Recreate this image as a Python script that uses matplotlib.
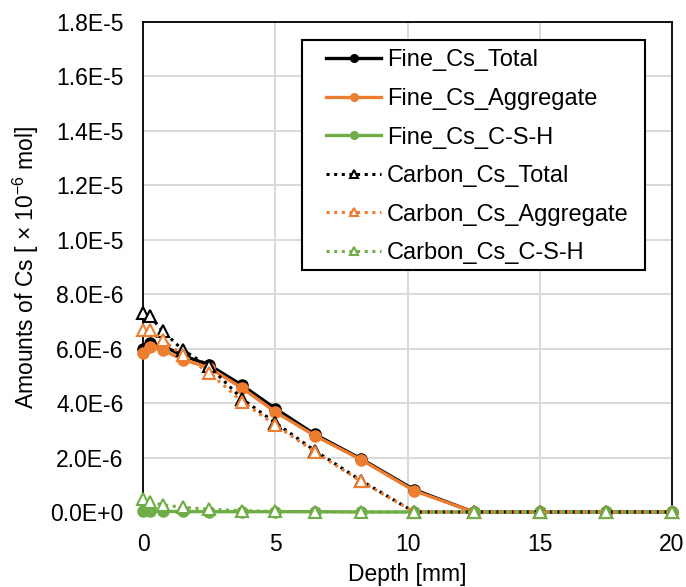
import numpy as np
import matplotlib
matplotlib.use("Agg")
import matplotlib.pyplot as plt
from matplotlib.patches import Rectangle
from matplotlib.ticker import FuncFormatter, MultipleLocator

plt.rcParams["font.family"] = ["Liberation Sans", "DejaVu Sans"]

# profundidad [mm]
depth = [0, 0.25, 0.75, 1.5, 2.5, 3.75, 5, 6.5, 8.25, 10.25, 12.5, 15, 17.5, 20]

# valores en unidades de 1e-6 mol
fine_total = [6.0, 6.2, 6.1, 5.75, 5.4, 4.65, 3.8, 2.85, 1.95, 0.82, 0, 0, 0, 0]
fine_agg = [5.85, 6.05, 5.95, 5.6, 5.3, 4.55, 3.68, 2.8, 1.92, 0.78, 0, 0, 0, 0]
fine_csh = [0.03, 0.03, 0.02, 0.02, 0.01, 0.01, 0.01, 0.01, 0, 0, 0, 0, 0, 0]
carbon_total = [7.3, 7.2, 6.65, 5.95, 5.35, 4.15, 3.28, 2.25, 1.15, 0, 0, 0, 0, 0]
carbon_agg = [6.7, 6.7, 6.3, 5.77, 5.12, 4.05, 3.2, 2.2, 1.12, 0, 0, 0, 0, 0]
carbon_csh = [0.47, 0.38, 0.26, 0.17, 0.1, 0.05, 0.02, 0.01, 0, 0, 0, 0, 0, 0]

labels = ["Fine_Cs_Total", "Fine_Cs_Aggregate", "Fine_Cs_C-S-H",
          "Carbon_Cs_Total", "Carbon_Cs_Aggregate", "Carbon_Cs_C-S-H"]

NEGRO = "#000000"
NARANJA = "#ED7D31"
VERDE = "#70AD47"


def formato_e(v, pos):
    m, e = f"{v:.1E}".split("E")
    return f"{m}E{int(e):+d}"


def main():
    fig = plt.figure(figsize=(6.86, 5.87), dpi=100)
    ax = fig.add_axes([0.2085, 0.1278, 0.7711, 0.8347])

    x = np.array(depth)
    series = [fine_total, fine_agg, fine_csh, carbon_total, carbon_agg, carbon_csh]
    colores = [NEGRO, NARANJA, VERDE, NEGRO, NARANJA, VERDE]

    for i, (vals, col, lab) in enumerate(zip(series, colores, labels)):
        y = np.array(vals) * 1e-6
        if i < 3:
            ax.plot(x, y, color=col, lw=2.4, marker="o", ms=8,
                    label=lab, clip_on=False, zorder=3 + i)
        else:
            ax.plot(x, y, color=col, lw=2.2, ls=(0, (1, 1.5)), marker="^", ms=8,
                    mfc="white", mec=col, mew=1.5, label=lab,
                    clip_on=False, zorder=6 + i)

    ax.set_xlim(0, 20)
    ax.set_ylim(0, 1.8e-5)
    ax.xaxis.set_major_locator(MultipleLocator(5))
    ax.yaxis.set_major_locator(MultipleLocator(2e-6))
    ax.yaxis.set_major_formatter(FuncFormatter(formato_e))
    ax.tick_params(length=0, labelsize=16.5)
    ax.tick_params(axis="y", pad=14)
    ax.tick_params(axis="x", pad=15)
    ax.grid(True, color="#d9d9d9", lw=1.4)
    ax.set_axisbelow(True)
    for s in ax.spines.values():
        s.set_color("black")
        s.set_linewidth(1.3)

    ax.set_xlabel("Depth [mm]", fontsize=16.5, labelpad=5)
    ax.set_ylabel(r"Amounts of Cs [ × 10$^{\mathregular{-6}}$ mol]", fontsize=16.5, labelpad=7)

    # marco de la leyenda (estilo Excel, con más margen horizontal)
    marco = Rectangle((0.3006, 0.494), 0.6484, 0.469, transform=ax.transAxes,
                      facecolor="white", edgecolor="black", lw=1.5, zorder=20)
    ax.add_patch(marco)

    leg = ax.legend(loc="upper left", bbox_to_anchor=(0.346, 0.944), borderaxespad=0,
                    fontsize=17, frameon=False, handlelength=2.33, handletextpad=0.25,
                    labelspacing=0.7, borderpad=0)
    leg.set_zorder(21)
    for h in leg.legend_handles:
        h.set_markersize(5.5)

    fig.savefig("out.png", dpi=100)


if __name__ == "__main__":
    main()
